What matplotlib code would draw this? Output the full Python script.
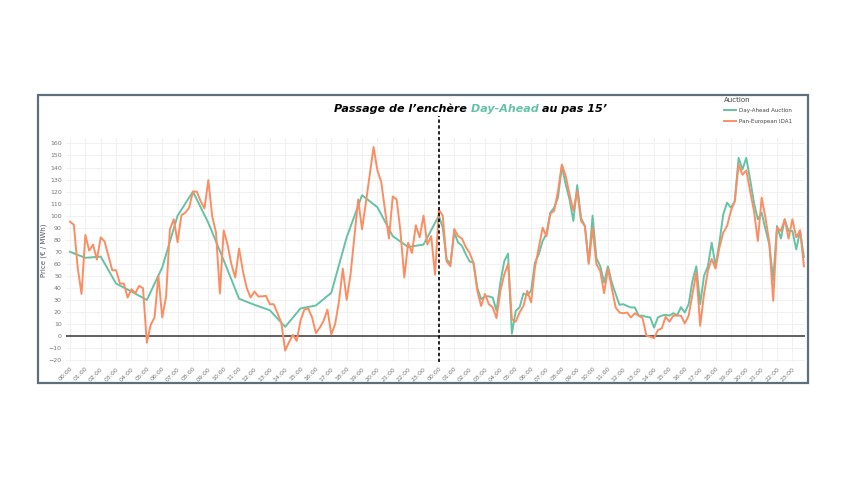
import numpy as np
import matplotlib
matplotlib.use("Agg")
import matplotlib.pyplot as plt
from matplotlib.patches import Rectangle

# Day-Ahead auction: hourly on day 1, quarter-hourly on day 2
green_d1 = [70, 65, 66, 43.6, 37, 30, 57, 100, 120, 94, 63, 31,
            26, 21.5, 7.7, 23, 25.4, 36, 82, 117, 107, 83, 74, 76]
green_d2 = [100, 90, 64, 60, 86, 77.6, 75, 68, 62, 61, 40, 30.7,
            33, 33, 32, 21, 44.5, 62, 68.5, 2, 21, 23.8, 35.4, 34,
            37.6, 61, 68, 79, 85, 102.5, 106.6, 115, 141, 126, 113.5, 95.6,
            125.4, 98, 91.4, 61, 100, 64.6, 58, 44.5, 58, 44.5, 35, 26,
            26.5, 25, 23.8, 23.8, 17, 17, 16, 15.5, 7, 15.5, 17, 17.7,
            17, 19, 17.4, 24, 19.6, 26.5, 46, 58, 26.5, 50, 58, 77.6,
            58, 77.6, 101, 110.8, 106.6, 112, 148, 138.4, 148, 130, 110.8, 97,
            102.5, 88.7, 76, 46.4, 91.4, 81, 97, 87.3, 87.3, 72, 87.3, 65.7]

# Pan-European IDA1: quarter-hourly both days
orange_d1 = [95, 92.5, 57, 35, 84, 71, 76, 63.5, 82, 78.5, 66.6, 54.7,
             54.7, 43.6, 43.6, 32, 39, 35.6, 41.7, 39.8, -5.5, 9.4, 15.5, 50,
             15.5, 32.6, 88.7, 97, 78, 100.5, 102.5, 106.6, 120, 120, 112, 106,
             129.6, 99.7, 86, 35.4, 87.8, 76, 59.7, 48.6, 72.7, 54, 40, 32,
             37, 33, 33, 33.4, 26.5, 26.5, 19, 11, -12, -5, 1, -4,
             13, 22, 23, 15.5, 2.5, 7, 12.7, 22, 1.4, 10, 29, 56,
             30, 51, 82, 113.5, 88.7, 110.8, 134, 157, 137.6, 128, 104, 81,
             116, 113.5, 87, 48.6, 77.6, 69, 92, 82, 100, 76, 83, 51]
orange_d2 = [105, 100, 62, 58, 89, 83, 81, 74, 69, 61, 37.6, 25,
             35, 26.5, 24, 15, 37.6, 51, 60, 14, 12, 19.6, 25, 37.6,
             28, 57, 73.5, 90, 83, 101.7, 104, 120.4, 142.5, 133, 117.7, 104,
             120.4, 95.6, 91.4, 60, 90, 59.7, 54, 35.6, 56, 40, 23.8, 19.6,
             19, 19.6, 15.5, 19, 17, 15, 0.3, -0.5, -1.7, 5, 6.4, 16,
             12, 17, 17, 17, 10.5, 17, 35, 53, 8.6, 35, 54, 64,
             56, 73.5, 86, 91.4, 104, 112, 142.5, 134, 137.6, 120.4, 104, 79,
             115, 98, 77.6, 29.3, 90, 87.3, 97, 81, 97, 82, 88, 58]

hour_labels = [f"{h % 24:02d}:00" for h in range(48)]

GREEN = "#66c2a5"
ORANGE = "#fc8d62"

x_green = np.concatenate([np.arange(24), 24 + np.arange(96) / 4])
y_green = np.array(green_d1 + green_d2)
x_orange = np.arange(192) / 4
y_orange = np.array(orange_d1 + orange_d2)

fig = plt.figure(figsize=(8.47, 4.8), dpi=100)
fig.patch.set_facecolor("white")

# outer frame of the picture
fig.patches.append(Rectangle((38 / 847, 1 - 383 / 480), 770 / 847, 288 / 480,
                             transform=fig.transFigure, fill=False,
                             edgecolor="#5d6f7c", lw=1.6))

ax = fig.add_axes([66 / 847, 1 - 362 / 480, 739 / 847, 224 / 480])
ax.plot(x_green, y_green, color=GREEN, lw=1.4, label="Day-Ahead Auction", zorder=3)
ax.plot(x_orange, y_orange, color=ORANGE, lw=1.4, label="Pan-European IDA1", zorder=3)
ax.axhline(0, color="#555555", lw=1.3, zorder=2)
ax.axvline(24, ymin=0, ymax=1.1, color="black", ls=(0, (2, 1.5)), lw=1.2,
           clip_on=False, zorder=4)

ax.set_xlim(-0.26, 47.82)
ax.set_ylim(-21.5, 164.5)
ax.set_xticks(range(48))
ax.set_xticklabels(hour_labels, rotation=45, ha="right", rotation_mode="anchor")
ax.set_yticks(range(-20, 161, 10))
ax.tick_params(length=0, labelsize=4.5, labelcolor="#777777", pad=3)
ax.grid(color="#efefef", lw=0.6, zorder=0)
for s in ax.spines.values():
    s.set_visible(False)
ax.set_ylabel("Price (€ / MWh)", fontsize=5, color="#555555", labelpad=1)

leg = ax.legend(loc="upper left", bbox_to_anchor=(720 / 847, 1 - 93 / 480),
                bbox_transform=fig.transFigure, frameon=False, fontsize=4,
                title="Auction", title_fontsize=5, handlelength=2.2,
                labelspacing=1.0, borderpad=0.2, handletextpad=0.6)
leg._legend_box.align = "left"
leg.get_title().set_color("#444444")
for t in leg.get_texts():
    t.set_color("#444444")

# title in three parts, middle one coloured
tkw = dict(fontsize=8, fontweight="bold", fontstyle="italic")
t1 = fig.text(334 / 847, 1 - 112 / 480, "Passage de l\u2019ench\u00e8re ",
              color="black", va="baseline", **tkw)
t2 = ax.annotate("Day-Ahead ", xy=(1, 0), xycoords=t1, color=GREEN,
                 va="bottom", **tkw)
t3 = ax.annotate("au pas 15\u2019", xy=(1, 0), xycoords=t2, color="black",
                 va="bottom", **tkw)

fig.savefig("out.png", dpi=100)
